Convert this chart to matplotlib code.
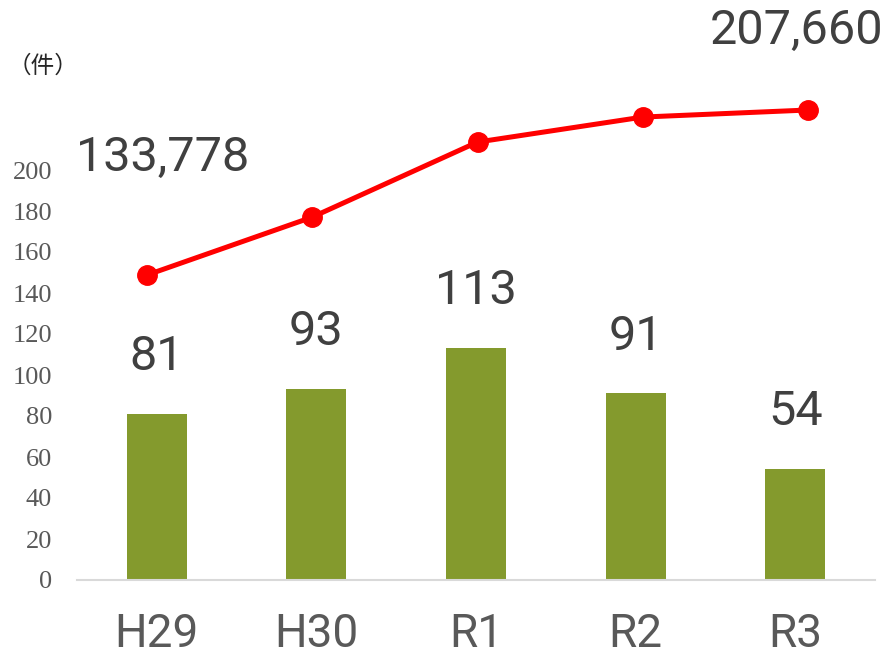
import matplotlib
matplotlib.use("Agg")
import matplotlib.pyplot as plt

# data
years = ["H29", "H30", "R1", "R2", "R3"]
cases = [81, 93, 113, 91, 54]
line_vals = [133778, 159700, 193300, 204500, 207660]
line_labels = {0: "133,778", 4: "207,660"}

W, H = 890, 662
fig = plt.figure(figsize=(W / 100, H / 100), dpi=100)

# axes placed in pixel units
left, right, bottom, top = 77, 875, 580, 20
rect = [left / W, (H - bottom) / H, (right - left) / W, (bottom - top) / H]

ax = fig.add_axes(rect)
ax.bar(range(len(years)), cases, width=0.376, color="#849a2d", zorder=2)
ax.set_xlim(-0.5, 4.5)
ax.set_ylim(0, (bottom - top) / 2.05)
ax.set_yticks(range(0, 201, 20))
ax.set_xticks(range(len(years)))
ax.set_xticklabels(years, fontsize=33, color="#595959", family=["Roboto", "DejaVu Sans"])
for t in ax.get_yticklabels():
    t.set_family("Liberation Serif")
    t.set_fontsize(19)
    t.set_color("#595959")
ax.tick_params(length=0)
ax.tick_params(axis="x", pad=23)
ax.tick_params(axis="y", pad=18)
for s in ["top", "right", "left"]:
    ax.spines[s].set_visible(False)
ax.spines["bottom"].set_color("#d9d9d9")
ax.spines["bottom"].set_linewidth(1.5)

lab_font = dict(fontsize=35, color="#404040", ha="center", va="center",
                family=["Roboto", "DejaVu Sans"])
for i, v in enumerate(cases):
    ax.annotate(str(v), (i, v), xytext=(0, 41), textcoords="offset points", **lab_font)

# line on its own overlay axes (slightly different category spacing)
ax2 = fig.add_axes(rect, frameon=False)
ax2.set_xlim((left - 147) / 165.25, (right - 147) / 165.25)
per_px = (207660 - 133778) / (275 - 110)
ax2.set_ylim(133778 - (bottom - 275) * per_px, 133778 + (275 - top) * per_px)
ax2.plot(range(len(years)), line_vals, color="#ff0000", lw=3.6,
         marker="o", markersize=14, zorder=3, clip_on=False)
ax2.set_xticks([])
ax2.set_yticks([])
for i, txt in line_labels.items():
    dx = 11 if i == 0 else -8
    dy = 84 if i == 0 else 57
    ax2.annotate(txt, (i, line_vals[i]), xytext=(dx, dy), textcoords="offset points", **lab_font)

fig.text(8 / W, 1 - 66 / H, "（件）", fontsize=17, color="#262626", va="center",
         family=["Noto Sans CJK JP", "DejaVu Sans"])

fig.savefig("out.png", dpi=100)
